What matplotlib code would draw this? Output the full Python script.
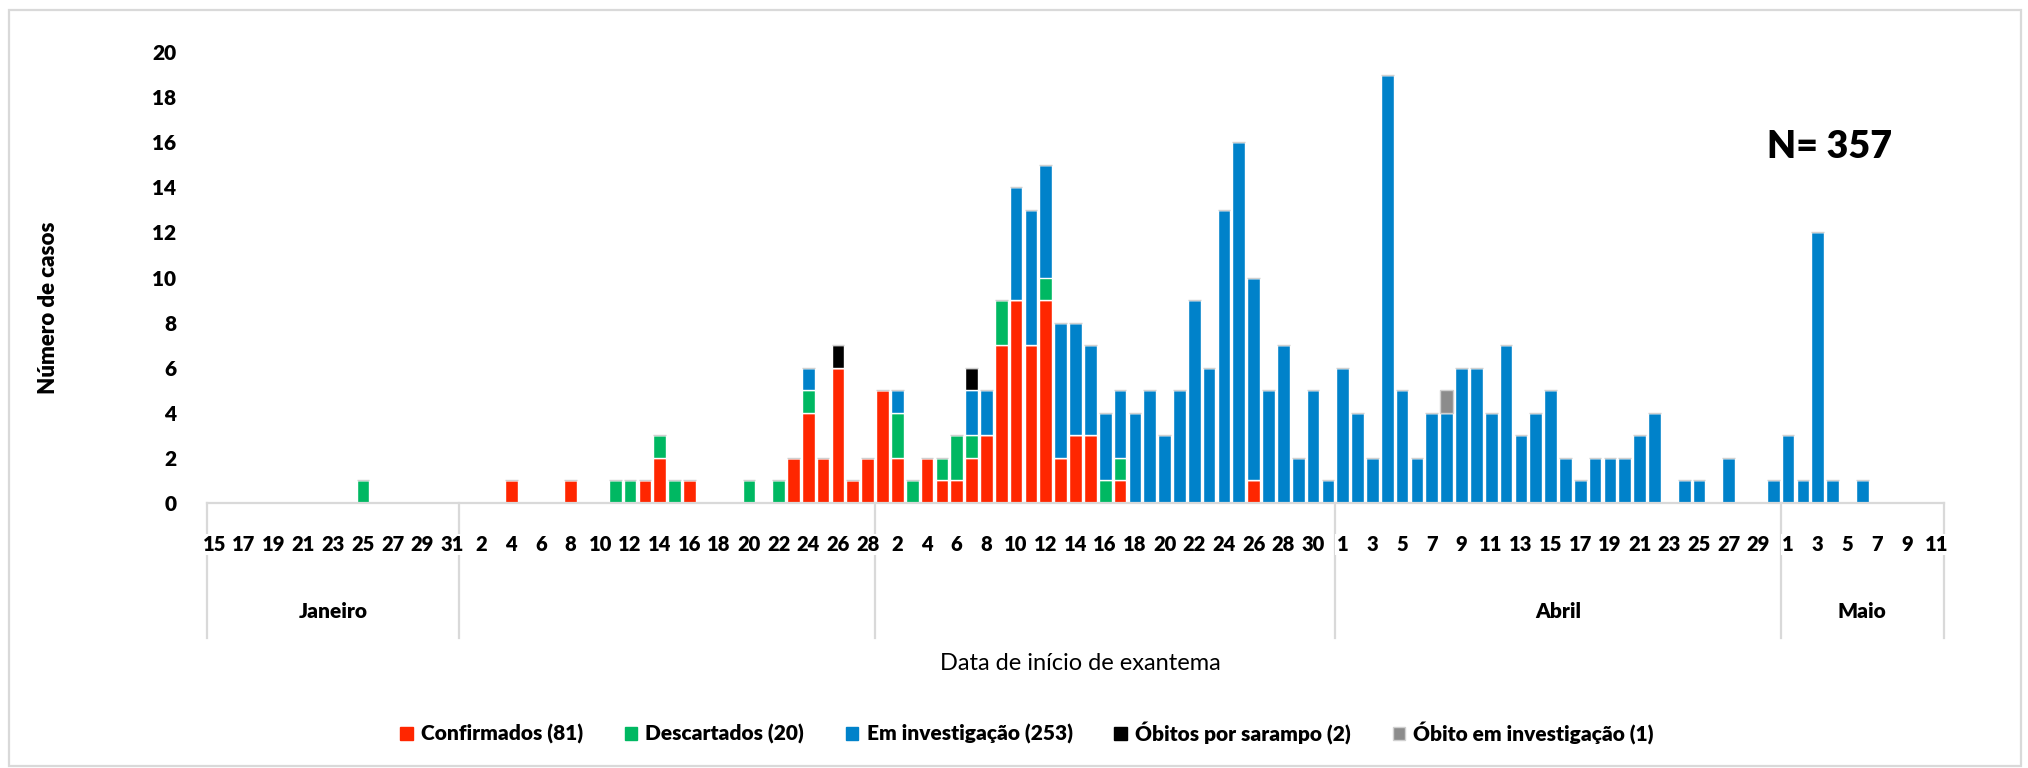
import numpy as np
import matplotlib
matplotlib.use("Agg")
import matplotlib.pyplot as plt
from matplotlib.patches import Patch, Rectangle
import matplotlib.transforms as mtransforms

plt.rcParams['font.family'] = ['Lato', 'DejaVu Sans']
BOLD = 'heavy'

# categories: 15 Jan .. 11 May
month_names = ["Janeiro", "", "", "Abril", "Maio"]
month_first_day = [15, 1, 1, 1, 1]
month_last_day = [31, 28, 31, 30, 11]

# daily counts, one row per month (Jan 15-31, Feb, Mar, Apr, May 1-11)
confirmados = (
    [0]*17 +
    [0, 0, 0, 1, 0, 0, 0, 1, 0, 0, 0, 0, 1, 2, 0, 1, 0, 0, 0, 0, 0, 0, 2, 4, 2, 6, 1, 2] +
    [5, 2, 0, 2, 1, 1, 2, 3, 7, 9, 7, 9, 2, 3, 3, 0, 1, 0, 0, 0, 0, 0, 0, 0, 0, 1, 0, 0, 0, 0, 0] +
    [0]*30 +
    [0]*11
)
descartados = (
    [0, 0, 0, 0, 0, 0, 0, 0, 0, 0, 1, 0, 0, 0, 0, 0, 0] +
    [0, 0, 0, 0, 0, 0, 0, 0, 0, 0, 1, 1, 0, 1, 1, 0, 0, 0, 0, 1, 0, 1, 0, 1, 0, 0, 0, 0] +
    [0, 2, 1, 0, 1, 2, 1, 0, 2, 0, 0, 1, 0, 0, 0, 1, 1, 0, 0, 0, 0, 0, 0, 0, 0, 0, 0, 0, 0, 0, 0] +
    [0]*30 +
    [0]*11
)
em_investigacao = (
    [0]*17 +
    [0, 0, 0, 0, 0, 0, 0, 0, 0, 0, 0, 0, 0, 0, 0, 0, 0, 0, 0, 0, 0, 0, 0, 1, 0, 0, 0, 0] +
    [0, 1, 0, 0, 0, 0, 2, 2, 0, 5, 6, 5, 6, 5, 4, 3, 3, 4, 5, 3, 5, 9, 6, 13, 16, 9, 5, 7, 2, 5, 1] +
    [6, 4, 2, 19, 5, 2, 4, 4, 6, 6, 4, 7, 3, 4, 5, 2, 1, 2, 2, 2, 3, 4, 0, 1, 1, 0, 2, 0, 0, 1] +
    [3, 1, 12, 1, 0, 1, 0, 0, 0, 0, 0]
)
obitos = (
    [0]*17 +
    [0, 0, 0, 0, 0, 0, 0, 0, 0, 0, 0, 0, 0, 0, 0, 0, 0, 0, 0, 0, 0, 0, 0, 0, 0, 1, 0, 0] +
    [0, 0, 0, 0, 0, 0, 1, 0, 0, 0, 0, 0, 0, 0, 0, 0, 0, 0, 0, 0, 0, 0, 0, 0, 0, 0, 0, 0, 0, 0, 0] +
    [0]*30 +
    [0]*11
)
obito_investigacao = (
    [0]*17 +
    [0]*28 +
    [0]*31 +
    [0, 0, 0, 0, 0, 0, 0, 1, 0, 0, 0, 0, 0, 0, 0, 0, 0, 0, 0, 0, 0, 0, 0, 0, 0, 0, 0, 0, 0, 0] +
    [0]*11
)

series = [
    ("Confirmados (81)", confirmados, "#FF2600", "white"),
    ("Descartados (20)", descartados, "#00B862", "white"),
    ("Em investigação (253)", em_investigacao, "#0082CA", "white"),
    ("Óbitos por sarampo (2)", obitos, "#000000", "white"),
    ("Óbito em investigação (1)", obito_investigacao, "#8C8C8C", "#D0D0D0"),
]

days = []
month_sizes = []
for first, last in zip(month_first_day, month_last_day):
    days += list(range(first, last + 1))
    month_sizes.append(last - first + 1)
x = np.arange(len(days))

fig = plt.figure(figsize=(20.28, 7.68), dpi=100)
ax = fig.add_axes([207/2028, 1 - 503/768, (1944 - 207)/2028, (503 - 52)/768])

bottom = np.zeros(len(days))
for name, vals, color, edge in series:
    vals = np.array(vals, dtype=float)
    ax.bar(x, vals, width=0.86, bottom=bottom, color=color,
           edgecolor=edge, linewidth=1.0)
    bottom += vals

ax.set_xlim(-0.5, len(days) - 0.5)
ax.set_ylim(0, 20)
ax.set_yticks(range(0, 21, 2))
ax.tick_params(axis='y', length=0, pad=22, labelsize=15)
for lab in ax.get_yticklabels():
    lab.set_fontweight(BOLD)

ax.set_xticks(x[::2])
ax.set_xticklabels([str(d) for d in days][::2], fontsize=14.5, fontweight=BOLD)
ax.tick_params(axis='x', length=0, pad=23)
for lab in ax.get_xticklabels():
    lab.set_bbox(dict(facecolor='white', edgecolor='none', pad=1))

for s in ['top', 'right', 'left']:
    ax.spines[s].set_visible(False)
ax.spines['bottom'].set_color('#D9D9D9')
ax.spines['bottom'].set_linewidth(1.6)

# month dividers and month labels
trans = mtransforms.blended_transform_factory(ax.transData, ax.transAxes)
edges = np.concatenate([[0], np.cumsum(month_sizes)]) - 0.5
for e in edges:
    ax.plot([e, e], [0, -0.30], color='#D9D9D9', lw=1.6, transform=trans,
            clip_on=False, zorder=1)
for i, name in enumerate(month_names):
    mid = (edges[i] + edges[i + 1]) / 2
    ax.text(mid, -0.24, name, transform=trans, ha='center', va='center',
            fontsize=15, fontweight=BOLD)

ax.text(0.934, 0.79, "N= 357", transform=ax.transAxes, ha='center', va='center',
        fontsize=27, fontweight=BOLD)

fig.text(1080/2028, 1 - 663/768, "Data de início de exantema", ha='center', va='center',
         fontsize=17)
fig.text(49/2028, 1 - 308/768, "Número de casos", ha='center', va='center',
         rotation=90, fontsize=16, fontweight=BOLD)

handles = [Patch(facecolor=c, edgecolor=e if e != "white" else c, label=n)
           for n, v, c, e in series]
leg = fig.legend(handles=handles, loc='center', bbox_to_anchor=(1027/2028, 1 - 733/768),
                 ncol=5, frameon=False, handlelength=0.6, handleheight=0.6,
                 handletextpad=0.4, columnspacing=2.0, prop={'size': 15, 'weight': BOLD})

fig.patches.append(Rectangle((9/2028, 2/768), (2021 - 9)/2028, (758 - 2)/768,
                             transform=fig.transFigure, fill=False,
                             edgecolor='#D9D9D9', lw=1.6))

fig.savefig("out.png", dpi=100, facecolor='white')
